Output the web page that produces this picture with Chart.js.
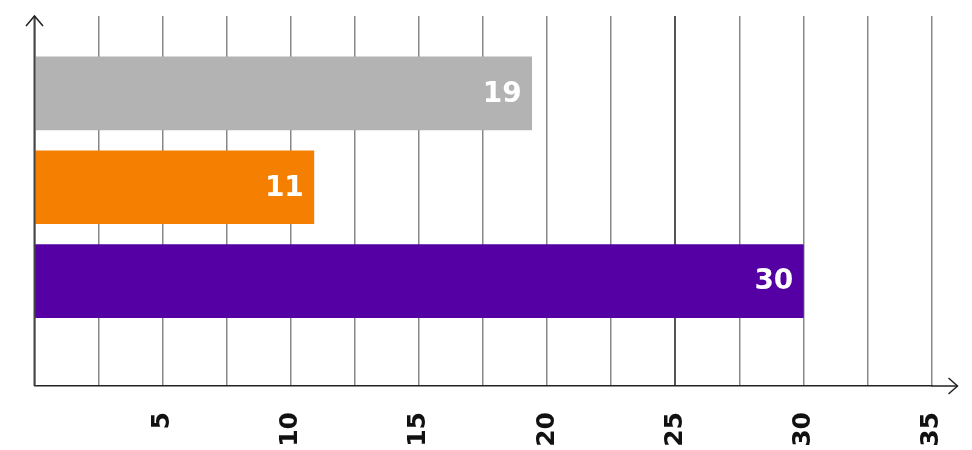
<!DOCTYPE html>
<html>
<head>
<meta charset="utf-8">
<script src="https://cdn.jsdelivr.net/npm/chart.js@4/dist/chart.umd.min.js"></script>
<style>
  html, body { margin: 0; padding: 0; background: #fff; }
  #wrap { width: 972px; height: 450px; }
</style>
</head>
<body>
<div id="wrap"><canvas id="barChart"></canvas></div>
<script>
const categories = ['A', 'B', 'C'];
const barValues = [19.4, 10.9, 30];
const valueLabels = ['19', '11', '30'];
const barColors = ['#b3b3b3', '#f57f00', '#5500a5'];
const tickLabels = [5, 10, 15, 20, 25, 30, 35];

// arrows on the axes + white value labels inside the bars
const axisDecor = {
    id: 'axisDecor',
    afterDatasetsDraw(chart) {
        const { ctx, chartArea } = chart;
        const left = chartArea.left, bottom = chartArea.bottom, top = chartArea.top;
        ctx.save();
        ctx.strokeStyle = '#444';
        ctx.lineWidth = 2;
        ctx.beginPath();
        ctx.moveTo(left, bottom);
        ctx.lineTo(left, top);
        ctx.stroke();
        ctx.strokeStyle = '#222';
        ctx.lineWidth = 1.5;
        ctx.beginPath();
        ctx.moveTo(left - 8.5, top + 10);
        ctx.lineTo(left, top);
        ctx.lineTo(left + 8.5, top + 10);
        ctx.stroke();
        const end = chartArea.right + 26;
        ctx.beginPath();
        ctx.moveTo(chartArea.right, bottom);
        ctx.lineTo(end, bottom);
        ctx.stroke();
        ctx.beginPath();
        ctx.moveTo(end - 9, bottom - 8);
        ctx.lineTo(end, bottom);
        ctx.lineTo(end - 9, bottom + 8);
        ctx.stroke();

        ctx.fillStyle = '#fff';
        ctx.font = 'bold 28px "DejaVu Sans"';
        ctx.textAlign = 'right';
        ctx.textBaseline = 'middle';
        chart.getDatasetMeta(0).data.forEach((bar, i) => {
            ctx.fillText(valueLabels[i], bar.x - 10, bar.y + 1);
        });
        ctx.restore();
    }
};

const ctx = document.getElementById('barChart').getContext('2d');
new Chart(ctx, {
    type: 'bar',
    data: {
        datasets: [{
            data: barValues.map((v, i) => ({ x: v, y: i, label: categories[i] })),
            backgroundColor: barColors,
            borderWidth: 0,
            barThickness: 73,
        }]
    },
    options: {
        indexAxis: 'y',
        responsive: true,
        maintainAspectRatio: false,
        animation: false,
        layout: {
            padding: { left: 34.5, right: 40.5, top: 16, bottom: 0 }
        },
        plugins: {
            legend: { display: false },
            tooltip: { enabled: false }
        },
        scales: {
            x: {
                type: 'linear',
                min: 0,
                max: 35,
                grid: {
                    drawTicks: false,
                    color: (c) => c.tick && c.tick.value === 25 ? '#555' : '#888',
                    lineWidth: (c) => c.tick && c.tick.value === 25 ? 2 : 1.5,
                },
                border: { display: true, color: '#222', width: 1.5 },
                ticks: {
                    stepSize: 2.5,
                    autoSkip: false,
                    minRotation: 90,
                    maxRotation: 90,
                    padding: 26,
                    color: '#111',
                    font: { family: 'DejaVu Sans', size: 25, weight: 'bold' },
                    callback: function(value) {
                        return tickLabels.includes(value) ? String(value) : '';
                    }
                },
                afterFit: function(scale) {
                    scale.height = 64;
                    scale.paddingLeft = 0;
                    scale.paddingRight = 0;
                }
            },
            y: {
                type: 'linear',
                reverse: true,
                offset: false,
                min: -0.824,
                max: 3.117,
                display: false
            }
        }
    },
    plugins: [axisDecor]
});
</script>
</body>
</html>
